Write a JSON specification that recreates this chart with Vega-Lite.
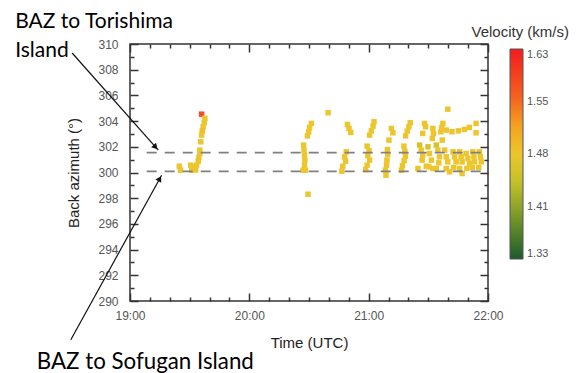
{
  "$schema": "https://vega.github.io/schema/vega-lite/v6.json",
  "autosize": {"type": "none"},
  "width": 358,
  "height": 257,
  "padding": {"left": 130, "top": 44, "right": 93, "bottom": 72},
  "background": "white",
  "config": {
    "view": {"stroke": "#333", "strokeWidth": 1.5},
    "font": "Liberation Sans"
  },
  "title": {
    "text": "Velocity (km/s)",
    "anchor": "end",
    "frame": "group",
    "dx": 81,
    "dy": 35,
    "offset": 6,
    "fontSize": 15,
    "fontWeight": "normal",
    "font": "Liberation Sans",
    "color": "#333"
  },
  "datasets": {
    "obs": [
      {"t": 19.413, "baz": 300.49, "v": 1.48}, {"t": 19.423, "baz": 300.18, "v": 1.48},
      {"t": 19.508, "baz": 300.57, "v": 1.48}, {"t": 19.530, "baz": 300.44, "v": 1.48},
      {"t": 19.558, "baz": 300.57, "v": 1.48}, {"t": 19.517, "baz": 300.18, "v": 1.48},
      {"t": 19.550, "baz": 300.20, "v": 1.48}, {"t": 19.535, "baz": 300.31, "v": 1.48},
      {"t": 19.600, "baz": 304.54, "v": 1.58}, {"t": 19.628, "baz": 304.21, "v": 1.48},
      {"t": 19.622, "baz": 303.87, "v": 1.48}, {"t": 19.613, "baz": 303.56, "v": 1.48},
      {"t": 19.605, "baz": 303.22, "v": 1.49}, {"t": 19.600, "baz": 302.91, "v": 1.48},
      {"t": 19.593, "baz": 302.39, "v": 1.48}, {"t": 19.585, "baz": 301.74, "v": 1.48},
      {"t": 19.585, "baz": 301.48, "v": 1.48}, {"t": 19.577, "baz": 301.17, "v": 1.48},
      {"t": 19.572, "baz": 300.88, "v": 1.48},
      {"t": 20.520, "baz": 303.82, "v": 1.48}, {"t": 20.505, "baz": 303.51, "v": 1.48},
      {"t": 20.498, "baz": 303.17, "v": 1.48}, {"t": 20.487, "baz": 302.85, "v": 1.48},
      {"t": 20.455, "baz": 302.13, "v": 1.48}, {"t": 20.458, "baz": 301.74, "v": 1.48},
      {"t": 20.462, "baz": 301.35, "v": 1.48}, {"t": 20.465, "baz": 300.96, "v": 1.48},
      {"t": 20.462, "baz": 300.57, "v": 1.48}, {"t": 20.450, "baz": 300.18, "v": 1.48},
      {"t": 20.470, "baz": 300.18, "v": 1.48}, {"t": 20.492, "baz": 298.31, "v": 1.48},
      {"t": 20.660, "baz": 304.65, "v": 1.48},
      {"t": 20.822, "baz": 303.74, "v": 1.48}, {"t": 20.835, "baz": 303.43, "v": 1.48},
      {"t": 20.850, "baz": 303.12, "v": 1.48}, {"t": 20.812, "baz": 301.61, "v": 1.48},
      {"t": 20.798, "baz": 301.22, "v": 1.48}, {"t": 20.807, "baz": 300.88, "v": 1.48},
      {"t": 20.783, "baz": 300.49, "v": 1.48}, {"t": 20.775, "baz": 300.10, "v": 1.48},
      {"t": 21.045, "baz": 303.95, "v": 1.48}, {"t": 21.037, "baz": 303.61, "v": 1.48},
      {"t": 21.022, "baz": 303.24, "v": 1.48}, {"t": 21.008, "baz": 302.91, "v": 1.48},
      {"t": 20.987, "baz": 302.05, "v": 1.48}, {"t": 21.003, "baz": 301.69, "v": 1.48},
      {"t": 20.993, "baz": 301.32, "v": 1.48}, {"t": 21.008, "baz": 300.96, "v": 1.48},
      {"t": 20.987, "baz": 300.57, "v": 1.48}, {"t": 20.975, "baz": 300.23, "v": 1.48},
      {"t": 21.190, "baz": 303.43, "v": 1.48}, {"t": 21.203, "baz": 303.09, "v": 1.48},
      {"t": 21.170, "baz": 302.52, "v": 1.48}, {"t": 21.157, "baz": 301.79, "v": 1.48},
      {"t": 21.160, "baz": 301.40, "v": 1.48}, {"t": 21.153, "baz": 300.96, "v": 1.48},
      {"t": 21.150, "baz": 300.57, "v": 1.48}, {"t": 21.140, "baz": 300.18, "v": 1.48},
      {"t": 21.145, "baz": 299.79, "v": 1.48},
      {"t": 21.348, "baz": 303.87, "v": 1.48}, {"t": 21.337, "baz": 303.56, "v": 1.48},
      {"t": 21.323, "baz": 303.22, "v": 1.48}, {"t": 21.310, "baz": 302.85, "v": 1.48},
      {"t": 21.295, "baz": 302.05, "v": 1.48}, {"t": 21.303, "baz": 301.66, "v": 1.48},
      {"t": 21.308, "baz": 301.27, "v": 1.48}, {"t": 21.297, "baz": 300.92, "v": 1.48},
      {"t": 21.283, "baz": 300.53, "v": 1.48}, {"t": 21.275, "baz": 300.18, "v": 1.48},
      {"t": 21.468, "baz": 303.82, "v": 1.48}, {"t": 21.477, "baz": 303.56, "v": 1.48},
      {"t": 21.453, "baz": 303.04, "v": 1.48}, {"t": 21.427, "baz": 302.13, "v": 1.46},
      {"t": 21.440, "baz": 301.74, "v": 1.48}, {"t": 21.453, "baz": 301.35, "v": 1.48},
      {"t": 21.448, "baz": 300.96, "v": 1.48}, {"t": 21.413, "baz": 300.31, "v": 1.48},
      {"t": 21.483, "baz": 300.49, "v": 1.48},
      {"t": 21.538, "baz": 303.43, "v": 1.48}, {"t": 21.543, "baz": 303.04, "v": 1.48},
      {"t": 21.533, "baz": 302.65, "v": 1.48}, {"t": 21.622, "baz": 303.82, "v": 1.48},
      {"t": 21.613, "baz": 303.51, "v": 1.48}, {"t": 21.605, "baz": 303.17, "v": 1.48},
      {"t": 21.617, "baz": 302.52, "v": 1.48}, {"t": 21.663, "baz": 304.93, "v": 1.48},
      {"t": 21.650, "baz": 303.30, "v": 1.48}, {"t": 21.698, "baz": 303.17, "v": 1.48},
      {"t": 21.752, "baz": 303.24, "v": 1.48}, {"t": 21.802, "baz": 303.35, "v": 1.48},
      {"t": 21.843, "baz": 303.51, "v": 1.48}, {"t": 21.900, "baz": 303.82, "v": 1.48},
      {"t": 21.900, "baz": 303.09, "v": 1.48},
      {"t": 21.497, "baz": 302.00, "v": 1.46}, {"t": 21.510, "baz": 301.48, "v": 1.48},
      {"t": 21.525, "baz": 300.96, "v": 1.48}, {"t": 21.505, "baz": 300.44, "v": 1.48},
      {"t": 21.538, "baz": 300.31, "v": 1.48}, {"t": 21.567, "baz": 302.13, "v": 1.46},
      {"t": 21.580, "baz": 301.74, "v": 1.48}, {"t": 21.593, "baz": 301.22, "v": 1.48},
      {"t": 21.588, "baz": 300.75, "v": 1.48}, {"t": 21.567, "baz": 300.31, "v": 1.48},
      {"t": 21.637, "baz": 301.74, "v": 1.48}, {"t": 21.650, "baz": 301.22, "v": 1.48},
      {"t": 21.663, "baz": 300.83, "v": 1.48}, {"t": 21.650, "baz": 300.31, "v": 1.48},
      {"t": 21.678, "baz": 300.05, "v": 1.48}, {"t": 21.707, "baz": 301.61, "v": 1.48},
      {"t": 21.720, "baz": 301.22, "v": 1.48}, {"t": 21.733, "baz": 300.83, "v": 1.48},
      {"t": 21.712, "baz": 300.39, "v": 1.48}, {"t": 21.762, "baz": 301.61, "v": 1.48},
      {"t": 21.775, "baz": 301.22, "v": 1.48}, {"t": 21.783, "baz": 300.83, "v": 1.48},
      {"t": 21.762, "baz": 300.31, "v": 1.48}, {"t": 21.783, "baz": 299.92, "v": 1.48},
      {"t": 21.817, "baz": 301.48, "v": 1.48}, {"t": 21.832, "baz": 301.09, "v": 1.48},
      {"t": 21.845, "baz": 300.70, "v": 1.48}, {"t": 21.823, "baz": 300.31, "v": 1.48},
      {"t": 21.873, "baz": 301.61, "v": 1.48}, {"t": 21.882, "baz": 301.22, "v": 1.48},
      {"t": 21.887, "baz": 300.83, "v": 1.48}, {"t": 21.868, "baz": 300.39, "v": 1.48},
      {"t": 21.928, "baz": 301.61, "v": 1.48}, {"t": 21.937, "baz": 301.22, "v": 1.48},
      {"t": 21.943, "baz": 300.83, "v": 1.48}, {"t": 21.923, "baz": 300.39, "v": 1.48}
    ],
    "refs": [
      {"t1": 19.14, "t2": 22, "baz": 301.55},
      {"t1": 19.14, "t2": 22, "baz": 300.08}
    ],
    "arrowTori": [{"t1": 18.515, "b1": 309.30, "t2": 19.237, "b2": 301.74}],
    "headTori": [{"t": 19.214, "baz": 301.97}],
    "arrowSofu": [{"t1": 18.504, "b1": 286.98, "t2": 19.265, "b2": 299.79}],
    "headSofu": [{"t": 19.249, "baz": 299.52}],
    "notes": [
      {"t": 18.038, "baz": 311.25, "label": "BAZ to Torishima\nIsland"}
    ],
    "notes2": [
      {"t": 18.219, "baz": 284.72, "label": "BAZ to Sofugan Island"}
    ]
  },
  "layer": [
    {
      "data": {"name": "obs"},
      "mark": {"type": "square", "size": 30, "opacity": 1, "filled": true},
      "encoding": {
        "x": {
          "field": "t", "type": "quantitative",
          "scale": {"domain": [19, 22], "nice": false, "zero": false},
          "axis": {
            "orient": "bottom", "title": "Time (UTC)",
            "values": [19, 19.16667, 19.33333, 19.5, 19.66667, 19.83333, 20, 20.16667, 20.33333, 20.5, 20.66667, 20.83333, 21, 21.16667, 21.33333, 21.5, 21.66667, 21.83333, 22],
            "labelExpr": "abs(datum.value - round(datum.value)) < 0.01 ? round(datum.value) + ':00' : ''",
            "labelOverlap": false, "labelFlush": false,
            "labelFontSize": 12, "labelColor": "#555", "labelPadding": 17,
            "tickSize": {"condition": {"test": "abs(datum.value - round(datum.value)) < 0.01", "value": -8}, "value": -4},
            "tickColor": "#333", "tickWidth": 1.5, "domain": false, "grid": false,
            "titleFontSize": 15, "titleFontWeight": "normal", "titleColor": "#222", "titlePadding": 10
          }
        },
        "y": {
          "field": "baz", "type": "quantitative",
          "scale": {"domain": [290, 310], "nice": false, "zero": false},
          "axis": {
            "orient": "left", "title": "Back azimuth (°)",
            "values": [290, 291, 292, 293, 294, 295, 296, 297, 298, 299, 300, 301, 302, 303, 304, 305, 306, 307, 308, 309, 310],
            "labelExpr": "datum.value % 2 === 0 ? datum.value : ''",
            "labelOverlap": false, "labelFlush": false,
            "labelFontSize": 12, "labelColor": "#555", "labelPadding": 20,
            "tickSize": {"condition": {"test": "datum.value % 2 === 0", "value": -8}, "value": -4},
            "tickColor": "#333", "tickWidth": 1.5, "domain": false, "grid": false,
            "titleFontSize": 15, "titleFontWeight": "normal", "titleColor": "#222", "titlePadding": 16
          }
        },
        "color": {
          "field": "v", "type": "quantitative",
          "scale": {
            "domain": [1.33, 1.36, 1.40, 1.44, 1.48, 1.52, 1.56, 1.63],
            "range": ["#1c5a2c", "#4a7a2a", "#88a02a", "#c4bf2a", "#ecc62c", "#f4a221", "#f2641f", "#f41c1e"],
            "interpolate": "rgb"
          },
          "legend": {
            "orient": "none", "legendX": 380, "legendY": 5, "title": null,
            "direction": "vertical", "type": "gradient",
            "gradientLength": 210, "gradientThickness": 13,
            "gradientStrokeColor": "#555", "gradientStrokeWidth": 1,
            "values": [1.33, 1.405, 1.48, 1.555, 1.63],
            "labelExpr": "datum.value < 1.4 ? '1.33' : datum.value < 1.45 ? '1.41' : datum.value < 1.5 ? '1.48' : datum.value < 1.6 ? '1.55' : '1.63'",
            "labelFontSize": 11, "labelColor": "#555", "labelOffset": 4, "labelOverlap": false
          }
        }
      }
    },
    {
      "data": {"name": "refs"},
      "mark": {"type": "rule", "color": "#808080", "strokeWidth": 1.8, "strokeDash": [10, 8]},
      "encoding": {
        "x": {
          "field": "t1", "type": "quantitative",
          "axis": {
            "orient": "top", "title": null, "labels": false,
            "values": [19, 19.16667, 19.33333, 19.5, 19.66667, 19.83333, 20, 20.16667, 20.33333, 20.5, 20.66667, 20.83333, 21, 21.16667, 21.33333, 21.5, 21.66667, 21.83333, 22],
            "tickSize": {"condition": {"test": "abs(datum.value - round(datum.value)) < 0.01", "value": -8}, "value": -4},
            "tickColor": "#333", "tickWidth": 1.5, "domain": false, "grid": false
          }
        },
        "x2": {"field": "t2"},
        "y": {
          "field": "baz", "type": "quantitative",
          "axis": {
            "orient": "right", "title": null, "labels": false,
            "values": [290, 291, 292, 293, 294, 295, 296, 297, 298, 299, 300, 301, 302, 303, 304, 305, 306, 307, 308, 309, 310],
            "tickSize": {"condition": {"test": "datum.value % 2 === 0", "value": -8}, "value": -4},
            "tickColor": "#333", "tickWidth": 1.5, "domain": false, "grid": false
          }
        }
      }
    },
    {
      "data": {"name": "arrowTori"},
      "mark": {"type": "rule", "color": "#111", "strokeWidth": 1.2},
      "encoding": {
        "x": {"field": "t1", "type": "quantitative", "axis": null},
        "y": {"field": "b1", "type": "quantitative", "axis": null},
        "x2": {"field": "t2"},
        "y2": {"field": "b2"}
      }
    },
    {
      "data": {"name": "arrowSofu"},
      "mark": {"type": "rule", "color": "#111", "strokeWidth": 1.2},
      "encoding": {
        "x": {"field": "t1", "type": "quantitative", "axis": null},
        "y": {"field": "b1", "type": "quantitative", "axis": null},
        "x2": {"field": "t2"},
        "y2": {"field": "b2"}
      }
    },
    {
      "data": {"name": "headTori"},
      "mark": {"type": "point", "shape": "triangle-up", "filled": true, "color": "#111", "opacity": 1, "size": 45, "angle": 138},
      "encoding": {
        "x": {"field": "t", "type": "quantitative", "axis": null},
        "y": {"field": "baz", "type": "quantitative", "axis": null}
      }
    },
    {
      "data": {"name": "headSofu"},
      "mark": {"type": "point", "shape": "triangle-up", "filled": true, "color": "#111", "opacity": 1, "size": 45, "angle": 29},
      "encoding": {
        "x": {"field": "t", "type": "quantitative", "axis": null},
        "y": {"field": "baz", "type": "quantitative", "axis": null}
      }
    },
    {
      "data": {"name": "notes"},
      "mark": {"type": "text", "align": "left", "baseline": "alphabetic", "font": "Lato", "fontSize": 21, "color": "#000", "lineBreak": "\n", "lineHeight": 29},
      "encoding": {
        "x": {"field": "t", "type": "quantitative", "axis": null},
        "y": {"field": "baz", "type": "quantitative", "axis": null},
        "text": {"field": "label"}
      }
    },
    {
      "data": {"name": "notes2"},
      "mark": {"type": "text", "align": "left", "baseline": "alphabetic", "font": "Lato", "fontSize": 22.3, "color": "#000"},
      "encoding": {
        "x": {"field": "t", "type": "quantitative", "axis": null},
        "y": {"field": "baz", "type": "quantitative", "axis": null},
        "text": {"field": "label"}
      }
    }
  ],
  "resolve": {"axis": {"x": "independent", "y": "independent"}}
}
